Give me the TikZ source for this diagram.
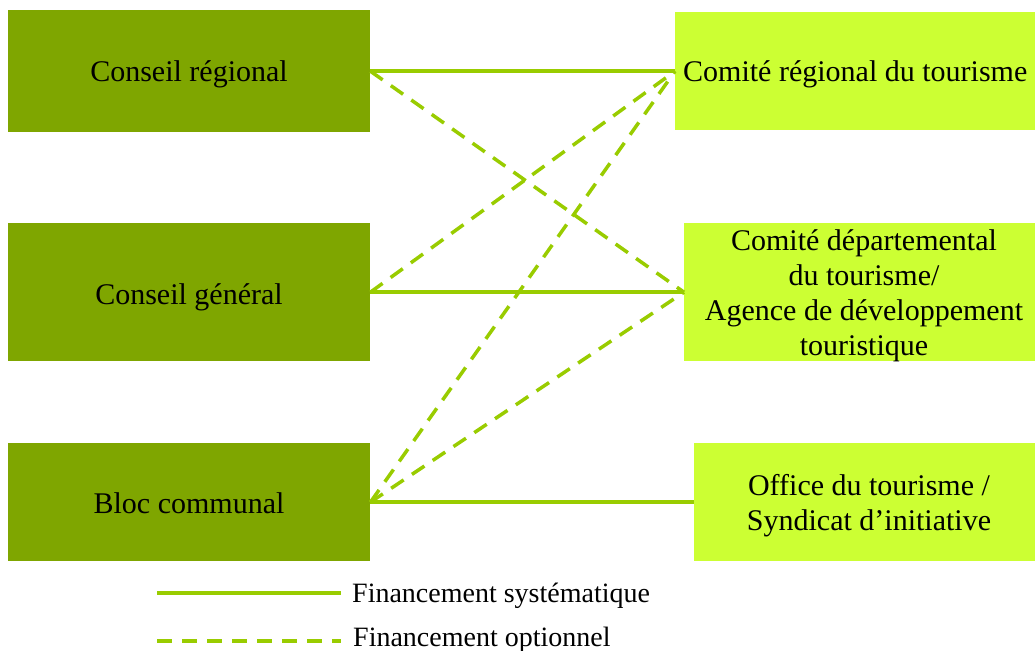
\documentclass[tikz,border=0pt]{standalone}
\usepackage{fontspec}
\setmainfont{Liberation Serif}
\definecolor{darkgreen}{HTML}{7FA600}
\definecolor{limebox}{HTML}{CCFF33}
\definecolor{linkgreen}{HTML}{99CC00}
\begin{document}
\begin{tikzpicture}[x=1pt,y=-1pt,
  srcbox/.style={fill=darkgreen, draw=none, inner sep=0, anchor=north west, minimum width=362pt},
  dstbox/.style={fill=limebox, draw=none, inner sep=0, anchor=north west, minimum width=380pt},
  lbl/.style={inner sep=0, font=\fontsize{30}{35}\selectfont, text=black, align=center},
  leg/.style={inner sep=0, font=\fontsize{28}{33}\selectfont, anchor=base west},
  sys/.style={draw=linkgreen, line width=3.5pt},
  opt/.style={draw=linkgreen, line width=3.5pt, dash pattern=on 15pt off 10pt}]
\useasboundingbox (0,0) rectangle (1035,650);
\clip (0,0) rectangle (1035,650);
% boxes
\node[srcbox, minimum height=122pt] (CR) at (8,10) {};
\node[srcbox, minimum height=138pt] (CG) at (8,223) {};
\node[srcbox, minimum height=118pt] (BC) at (8,443) {};
\node[dstbox, minimum height=118pt] (CRT) at (675,12) {};
\node[dstbox, minimum height=138pt] (CDT) at (684,223) {};
\node[dstbox, minimum height=118pt] (OT) at (694,443) {};
% labels
\node[lbl, anchor=base] (tCR) at (189,82) {Conseil régional};
\node[lbl, anchor=base] (tCG) at (189,304) {Conseil général};
\node[lbl, anchor=base] (tBC) at (189,513) {Bloc communal};
\node[lbl, anchor=base west] (tCRT) at (683,82) {Comité régional du tourisme};
\node[lbl] (tCDT) at (864,296) {Comité départemental\\du tourisme/\\Agence de développement\\touristique};
\node[lbl] (tOT) at (869,505.5) {Office du tourisme /\\Syndicat d’initiative};
% connectors
\draw[sys] (CR.east) -- (CR.east -| CRT.west);
\draw[sys] (CG.east) -- (CG.east -| CDT.west);
\draw[sys] (BC.east) -- (BC.east -| OT.west);
\draw[opt] (CR.east) -- (CDT.west);
\draw[opt] (CG.east) -- (CRT.west);
\draw[opt] (BC.east) -- (CRT.west);
\draw[opt] (BC.east) -- (CDT.west);
% legend
\coordinate (l1a) at (157,593);
\coordinate (l1b) at (341,593);
\coordinate (l2a) at (157,641);
\coordinate (l2b) at (341,641);
\draw[sys] (l1a) -- (l1b);
\draw[opt] (l2a) -- (l2b);
\node[leg] (tl1) at (352,602) {Financement systématique};
\node[leg] (tl2) at (353,646) {Financement optionnel};
\end{tikzpicture}
\end{document}
